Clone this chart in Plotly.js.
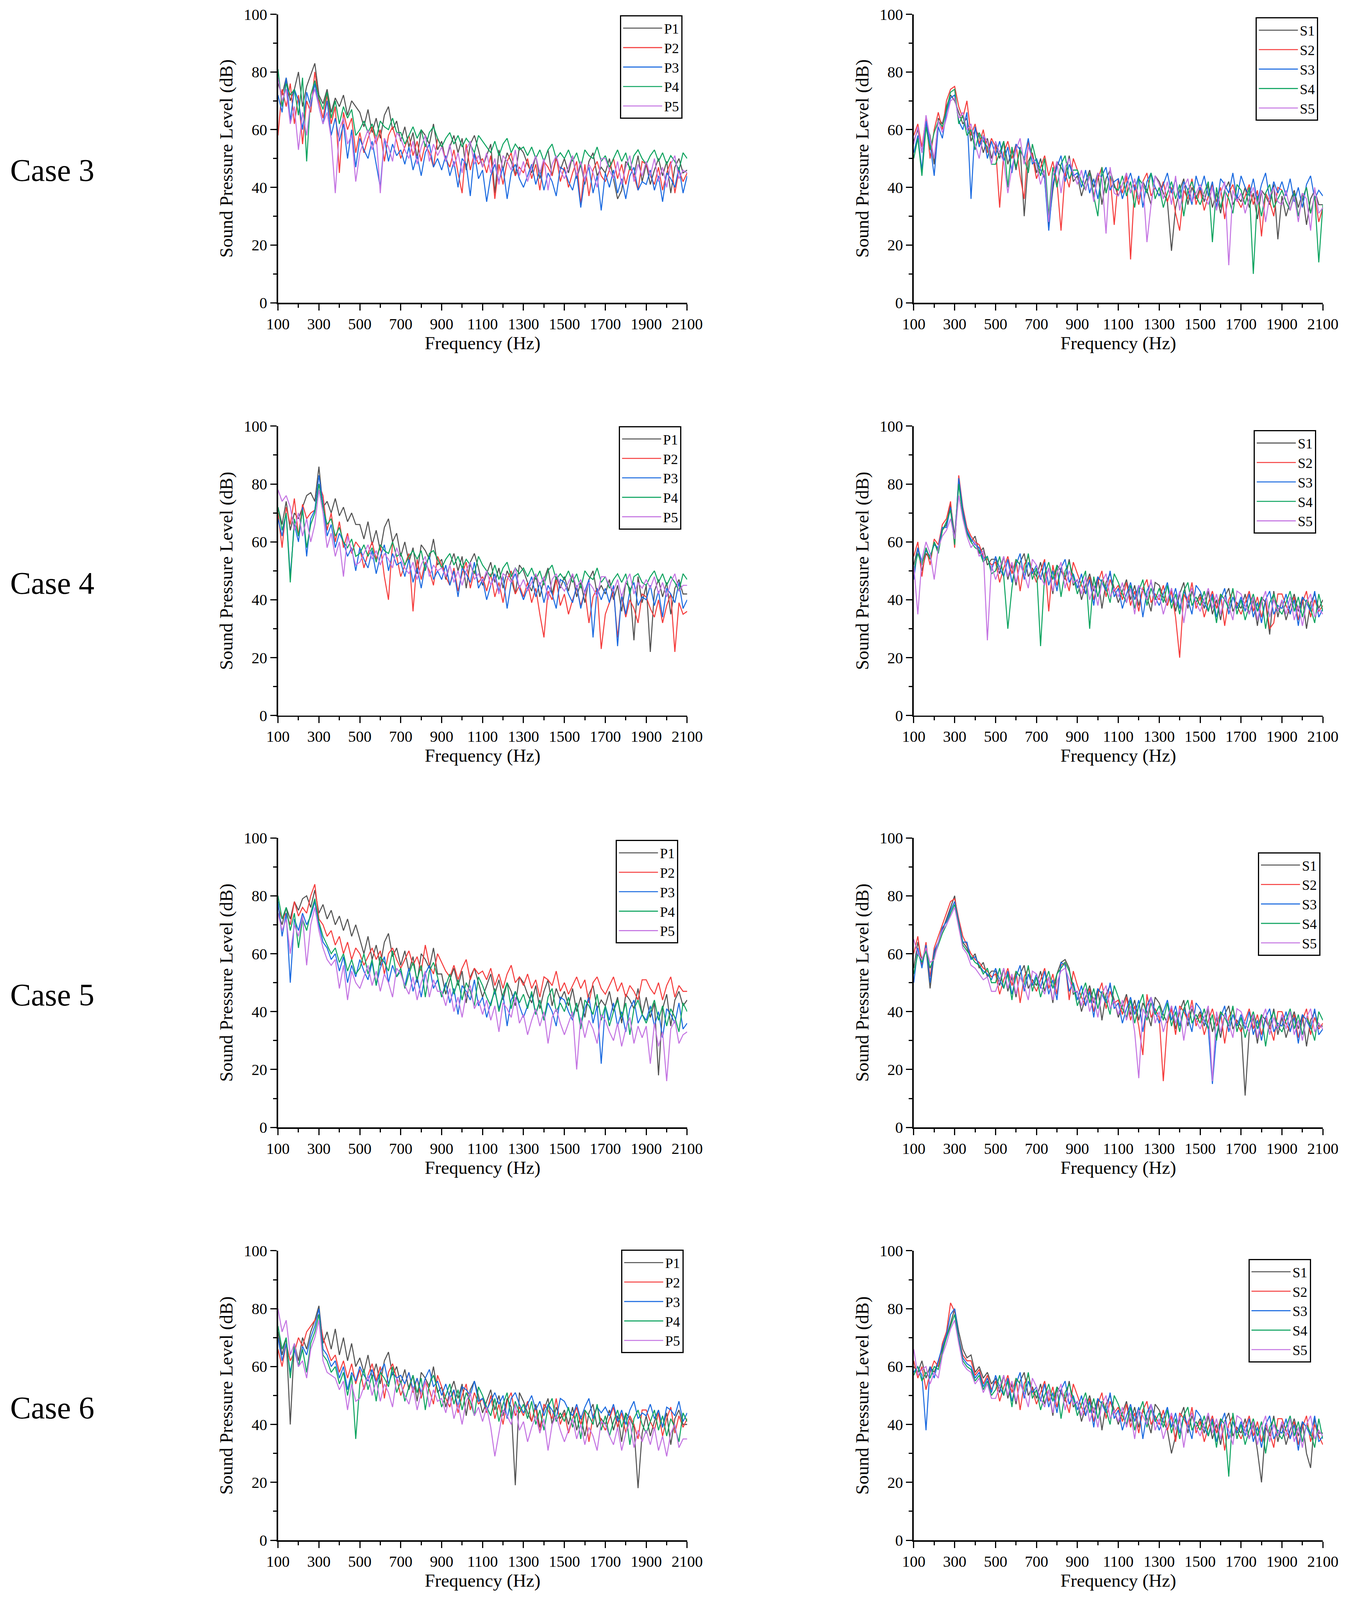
<!DOCTYPE html>
<html>
<head>
<meta charset="utf-8">
<script src="https://cdn.plot.ly/plotly-3.0.1.min.js"></script>
<style>
html,body{margin:0;padding:0;background:#fff;overflow:hidden;}
</style>
</head>
<body>
<div id="chart"></div>
<script>
// ---------------- DATA ----------------
const freq = [100,120,140,160,180,200,220,240,260,280,300,320,340,360,380,400,420,440,460,480,500,520,540,560,580,600,620,640,660,680,700,720,740,760,780,800,820,840,860,880,900,920,940,960,980,1000,1020,1040,1060,1080,1100,1120,1140,1160,1180,1200,1220,1240,1260,1280,1300,1320,1340,1360,1380,1400,1420,1440,1460,1480,1500,1520,1540,1560,1580,1600,1620,1640,1660,1680,1700,1720,1740,1760,1780,1800,1820,1840,1860,1880,1900,1920,1940,1960,1980,2000,2020,2040,2060,2080,2100];
const xTicks = [100,300,500,700,900,1100,1300,1500,1700,1900,2100];
const yTicks = [0,20,40,60,80,100];
const caseLabels = ['Case 3','Case 4','Case 5','Case 6'];
const pNames = ['P1','P2','P3','P4','P5'];
const sNames = ['S1','S2','S3','S4','S5'];

// Case 3
const c3P1 = [76,72,78,70,74,80,68,75,79,83, 72,69,74,66,71,68,72,65,70,68, 66,61,67,59,64,57,65,68,60,63, 56,61,54,59,50,60,58,55,62,53, 56,49,54,58,52,57,46,55,58,53, 47,51,55,38,53,46,52,49,44,54, 52,48,45,51,43,49,53,44,50,46, 50,45,51,43,48,41,49,52,44,47, 45,50,43,36,39,49,47,44,51,42, 48,41,46,50,44,49,38,47,50,45, 46];
const c3P2 = [58,74,68,76,62,72,55,70,66,80, 70,64,72,62,68,45,66,60,64,52, 59,52,57,61,55,60,49,58,61,56, 50,54,58,51,56,49,55,52,47,57, 54,50,47,53,45,38,55,46,52,48, 50,45,51,36,48,41,49,52,44,47, 45,50,43,48,39,49,47,44,51,42, 47,40,45,49,34,48,37,46,49,44, 42,46,50,43,48,41,47,44,39,49, 48,44,41,47,39,45,49,38,46,42, 45];
const c3P3 = [72,66,78,63,74,70,60,73,68,76, 68,62,70,58,64,56,62,50,60,47, 57,53,50,56,48,40,57,49,55,51, 53,48,54,46,51,44,52,55,47,50, 46,51,44,49,40,50,48,37,52,43, 46,35,44,48,42,47,36,45,48,43, 40,44,48,41,46,39,45,42,37,47, 46,42,39,45,33,43,47,38,44,32, 45,40,46,38,43,36,44,47,39,42, 41,46,39,44,35,45,43,40,47,38, 44];
const c3P4 = [81,68,76,72,74,65,78,49,72,77, 71,67,73,64,70,62,68,64,67,58, 60,63,59,62,57,63,61,60,64,59, 59,55,58,61,57,60,54,59,61,57, 54,57,59,55,58,54,57,55,52,58, 56,54,52,56,51,55,57,52,55,53, 54,51,54,50,53,49,53,55,50,52, 50,53,49,52,47,53,51,50,54,49, 51,47,50,53,49,52,46,51,53,50, 48,51,53,49,52,48,51,49,46,52, 50];
const c3P5 = [78,70,74,62,68,53,66,58,70,74, 68,62,66,57,38,60,64,55,58,42, 52,56,60,53,58,38,57,54,49,59, 57,53,50,56,48,54,58,49,55,51, 54,49,55,47,52,45,53,56,48,51, 47,52,45,50,41,51,49,46,53,44, 49,42,47,51,45,50,39,48,51,46, 43,47,51,44,49,42,48,45,40,50, 50,46,43,49,41,47,51,42,48,44, 49,44,50,42,47,40,48,51,43,46, 45];
const c3S1 = [56,60,52,62,58,48,64,62,68,72, 70,66,62,64,56,60,58,52,57,50, 55,50,56,48,53,46,54,30,49,52, 45,50,43,27,39,49,47,44,51,42, 44,37,42,46,40,45,34,43,46,41, 37,41,45,38,43,36,42,39,34,44, 42,38,35,18,33,39,43,34,40,36, 40,35,41,33,38,31,39,42,34,37, 35,40,33,38,29,39,37,34,41,22, 37,30,35,39,33,38,27,36,39,34, 34];
const c3S2 = [58,62,54,64,50,60,66,60,70,74, 75,68,64,70,58,62,55,60,52,57, 54,33,52,56,50,55,44,36,56,51, 43,47,51,44,49,42,25,45,40,50, 46,42,39,45,37,43,47,38,44,27, 43,38,44,15,41,34,42,45,37,40, 37,42,35,40,31,25,39,36,43,34, 39,32,37,41,35,40,29,38,41,36, 33,37,41,34,39,23,38,35,30,40, 39,35,32,38,30,36,40,31,37,28, 33];
const c3S3 = [52,58,46,63,55,44,61,57,66,71, 72,63,60,66,36,61,54,58,50,56, 51,56,49,54,45,55,53,50,57,48, 50,46,43,25,41,47,51,42,48,44, 45,40,46,38,43,36,44,47,39,42, 43,36,41,45,39,44,33,42,45,40, 37,41,45,38,43,36,42,39,34,44, 39,44,37,42,33,43,41,38,45,36, 44,40,37,43,35,41,45,36,42,38, 42,37,43,35,40,33,41,44,36,39, 37];
const c3S4 = [50,57,44,61,53,59,63,61,67,73, 74,62,65,58,60,53,59,56,54,48, 48,52,56,40,54,47,53,50,45,55, 49,44,50,30,47,40,48,51,43,46, 46,42,39,45,37,30,47,38,44,40, 39,44,37,42,33,43,41,38,45,36, 40,33,38,42,36,41,30,39,42,37, 34,38,42,21,40,33,39,36,31,41, 39,34,40,10,37,30,38,41,33,36, 39,35,32,38,30,36,40,31,37,14, 34];
const c3S5 = [55,61,52,65,57,50,63,59,64,70, 71,64,66,60,62,55,50,58,56,48, 56,52,49,38,47,53,57,48,54,50, 48,41,46,28,44,49,38,47,50,45, 41,46,39,44,35,45,43,24,47,38, 37,41,45,38,43,36,42,21,34,44, 41,36,42,34,44,32,40,43,35,38, 41,37,34,40,32,38,42,13,39,35, 38,31,36,40,34,39,28,37,40,35, 34,39,32,37,28,38,36,25,40,31, 33];

// Case 4
const c4P1 = [72,66,74,64,70,68,72,76,77,74, 86,72,74,70,75,69,72,67,70,66, 66,61,67,59,64,57,65,68,60,63, 55,60,53,58,49,59,57,54,61,52, 54,47,52,56,50,55,44,53,56,51, 45,49,53,46,51,44,50,47,42,52, 50,46,43,49,41,47,51,42,48,44, 48,43,49,41,46,39,47,50,42,45, 42,47,40,45,36,46,44,26,48,39, 45,22,43,47,41,46,35,44,47,42, 42];
const c4P2 = [70,58,72,66,75,62,73,68,70,71, 80,76,64,70,60,67,58,63,56,60, 58,51,56,60,54,59,48,40,60,55, 48,52,56,36,54,47,53,50,45,55, 52,48,45,51,43,49,53,44,50,46, 48,43,49,41,46,39,47,50,42,45, 41,46,39,44,35,27,43,40,47,38, 42,35,40,44,38,43,32,41,44,23, 35,39,43,27,41,34,40,37,32,42, 41,37,34,40,32,38,42,22,39,35, 36];
const c4P3 = [68,62,70,48,66,60,72,55,68,71, 83,73,62,66,58,63,60,55,58,50, 58,54,51,57,49,55,59,50,56,52, 53,48,54,46,51,44,52,55,47,50, 47,52,45,50,41,51,49,46,53,44, 47,40,45,49,43,48,37,46,49,44, 40,44,48,41,46,39,45,42,37,47, 46,42,39,45,37,43,47,27,44,40, 44,39,45,24,42,35,43,46,38,41, 40,45,38,43,34,44,42,39,46,37, 40];
const c4P4 = [72,64,70,46,68,62,71,58,66,70, 80,72,66,68,62,65,60,58,61,55, 56,59,55,58,53,59,57,56,60,55, 56,52,55,57,54,57,50,56,57,54, 51,54,56,52,55,51,54,52,49,55, 52,50,48,52,47,51,53,48,51,49, 51,48,51,47,50,45,50,52,47,49, 47,50,46,49,44,50,48,47,51,46, 48,44,47,49,46,49,42,48,49,46, 45,48,50,46,49,45,48,46,43,49, 47];
const c4P5 = [78,74,76,72,64,70,62,68,60,66, 78,70,58,63,55,60,48,62,57,52, 53,56,59,54,57,52,56,54,51,58, 54,51,49,53,47,52,55,48,52,50, 51,48,52,46,50,45,50,53,47,49, 46,50,45,48,42,49,48,46,51,44, 47,43,46,49,45,48,40,47,49,45, 43,46,49,44,47,42,46,44,41,48, 48,45,43,47,41,46,49,42,46,44, 47,44,48,42,46,41,46,49,43,45, 45];
const c4S1 = [52,58,50,56,54,60,57,64,66,73, 62,80,70,64,60,62,56,58,52,54, 54,49,55,47,52,45,53,56,48,51, 48,53,46,51,42,52,50,47,54,45, 47,40,45,49,43,48,37,46,49,44, 39,43,47,40,45,38,44,41,36,46, 45,41,38,44,36,42,46,37,43,39, 42,37,43,35,40,33,41,44,36,39, 37,42,35,40,31,41,39,28,43,34, 40,33,38,42,36,41,30,39,42,37, 40];
const c4S2 = [55,60,48,58,52,61,59,66,68,74, 58,83,72,65,62,60,59,55,54,52, 53,46,51,55,49,54,43,52,55,50, 46,50,54,36,52,45,51,48,43,53, 49,45,42,48,40,46,50,41,47,43, 45,40,46,38,43,36,44,47,39,42, 40,45,38,43,34,20,42,39,46,37, 41,34,39,43,37,42,31,40,43,38, 35,39,43,36,41,34,40,30,32,42, 42,38,35,41,33,39,43,34,40,36, 38];
const c4S3 = [47,58,53,57,55,59,58,65,65,72, 60,82,71,64,61,59,58,54,55,50, 55,51,48,54,46,52,56,47,53,49, 52,47,53,45,50,43,51,54,46,49, 44,49,42,47,38,48,46,43,50,41, 44,37,42,46,40,45,34,43,46,41, 38,42,46,39,44,37,43,40,35,45, 43,39,36,42,34,40,44,35,41,37, 41,36,42,34,39,32,40,43,35,38, 37,42,35,40,31,41,39,36,43,34, 37];
const c4S4 = [50,56,52,58,54,60,56,64,67,71, 59,80,69,63,60,58,57,53,55,49, 50,55,48,30,44,54,52,49,56,47, 51,24,49,53,47,52,41,50,53,48, 42,46,50,30,48,41,47,44,39,49, 46,42,39,45,37,43,47,38,44,40, 44,39,45,37,42,35,43,46,38,41, 38,43,36,41,32,42,40,37,44,35, 40,33,38,42,36,41,30,39,42,37, 35,39,43,36,41,34,40,37,32,42, 36];
const c4S5 = [52,35,54,60,56,47,58,62,64,68, 61,76,68,62,58,60,55,57,26,52, 47,51,55,48,53,46,52,49,44,54, 52,48,45,51,43,49,53,44,50,46, 47,42,48,40,45,38,46,49,41,44, 41,46,39,44,35,45,43,40,47,38, 42,35,40,44,38,43,32,41,44,39, 36,40,44,37,42,35,41,38,33,43, 42,38,35,41,33,39,43,34,40,36, 40,35,41,33,38,31,39,42,34,37, 35];

// Case 5
const c5P1 = [74,70,76,72,78,75,79,80,76,82, 74,77,72,75,70,73,68,72,66,70, 65,60,66,58,63,56,64,67,59,62, 56,61,54,59,50,60,58,55,62,53, 53,46,51,55,49,54,43,52,55,50, 45,49,53,46,51,44,50,47,42,52, 50,46,43,49,41,47,51,42,48,44, 47,42,48,40,45,38,46,49,41,44, 42,47,40,45,36,46,44,41,48,39, 45,38,43,18,41,46,35,44,47,42, 44];
const c5P2 = [76,72,74,70,78,73,76,74,80,84, 72,70,66,68,63,66,60,64,58,62, 60,56,59,62,58,61,53,60,62,58, 55,58,61,56,59,54,63,56,53,60, 57,54,52,56,51,55,58,51,55,53, 54,51,55,49,53,48,53,56,50,52, 49,53,48,51,45,52,51,49,54,47, 50,46,49,52,48,51,43,50,52,48, 46,49,52,47,50,45,49,47,44,51, 51,48,46,50,44,49,52,45,49,47, 47];
const c5P3 = [78,66,74,50,72,68,74,70,73,78, 70,64,62,58,60,54,59,50,56,52, 58,54,51,57,49,55,59,50,56,52, 54,49,55,47,52,45,53,56,48,51, 45,50,43,48,39,49,47,44,51,42, 45,38,43,47,41,46,35,44,47,42, 38,42,46,39,44,37,43,40,35,45, 44,40,37,43,35,41,45,36,42,22, 42,37,43,35,40,33,41,44,36,39, 37,42,35,40,31,41,39,36,43,34, 36];
const c5P4 = [80,72,76,68,74,62,72,68,74,79, 71,66,63,60,62,57,60,54,58,53, 55,60,53,58,49,59,57,54,61,52, 55,48,53,57,51,56,45,54,57,52, 45,49,53,46,51,44,50,47,42,52, 49,45,42,48,40,46,50,41,47,43, 46,41,47,39,44,37,45,48,40,43, 40,45,38,43,34,44,42,39,46,37, 42,35,40,44,38,43,32,41,44,39, 36,40,44,37,42,35,41,38,33,43, 40];
const c5P5 = [74,68,72,60,70,66,73,56,70,76, 68,62,58,56,58,48,56,44,54,50, 48,52,56,49,54,47,53,50,45,55, 53,49,46,52,44,50,54,45,51,47, 47,42,48,40,45,38,46,49,41,44, 39,44,37,42,33,43,41,38,45,36, 39,32,37,41,35,40,29,38,41,36, 32,36,40,20,38,31,37,34,29,39, 37,33,30,36,28,34,38,29,35,31, 35,22,36,28,33,16,34,37,29,32, 33];
const c5S1 = [55,64,58,62,48,60,64,68,72,76, 80,70,64,62,58,60,55,57,52,54, 54,49,55,47,52,45,53,56,48,51, 49,54,47,52,43,53,57,58,55,46, 47,40,45,49,43,48,37,46,49,44, 38,42,46,39,44,37,43,40,35,45, 43,39,36,42,34,40,44,35,41,37, 40,35,41,33,38,31,39,42,34,37, 35,11,33,38,29,39,37,34,41,32, 38,31,36,40,34,39,28,37,40,35, 35];
const c5S2 = [60,66,56,64,52,62,66,70,74,78, 79,72,66,63,60,58,57,55,54,52, 53,46,51,55,49,54,43,52,55,50, 47,51,55,48,53,46,56,57,44,54, 49,45,42,48,40,46,50,41,47,43, 44,39,45,37,42,35,25,46,38,41, 38,16,36,41,32,42,40,37,44,35, 39,32,37,41,35,40,29,38,41,36, 33,37,41,34,39,32,38,35,30,40, 40,36,33,39,31,37,41,32,38,34, 36];
const c5S3 = [50,62,55,63,50,61,64,69,71,75, 78,71,64,64,58,59,56,54,53,51, 55,51,48,54,46,52,56,47,53,49, 53,48,54,46,51,44,57,56,47,50, 44,49,42,47,38,48,46,43,50,41, 43,36,41,45,39,44,33,42,45,40, 36,40,44,37,42,35,41,38,33,43, 41,37,34,15,32,38,42,33,39,35, 39,34,40,32,37,30,38,41,33,36, 35,40,33,38,29,39,37,34,41,32, 34];
const c5S4 = [53,60,57,61,55,59,63,67,70,74, 77,70,63,61,59,57,56,53,55,50, 50,55,48,53,44,54,52,49,56,47, 52,45,50,54,48,53,55,57,54,49, 42,46,50,43,48,41,47,44,39,49, 45,41,38,44,36,42,46,37,43,39, 42,37,43,35,40,33,41,44,36,39, 36,41,34,39,30,40,38,35,42,33, 38,31,36,40,34,39,28,37,40,35, 33,37,41,34,39,32,38,35,30,40, 37];
const c5S5 = [65,60,58,62,57,58,64,68,70,73, 76,69,62,60,56,55,53,51,52,47, 47,51,55,48,53,46,52,49,44,54, 53,49,46,52,44,50,54,55,51,47, 47,42,48,40,45,38,46,49,41,44, 39,44,37,42,33,17,41,38,45,36, 40,33,38,42,36,41,30,39,42,37, 34,38,42,16,40,33,39,36,31,41, 40,36,33,39,31,37,41,32,38,34, 39,34,40,32,37,30,38,41,33,36, 34];

// Case 6
const c6P1 = [72,64,70,40,68,62,70,66,72,76, 81,68,72,66,73,64,70,62,68,60, 63,58,64,56,61,54,62,65,57,60, 54,59,52,57,48,58,56,53,60,51, 53,46,51,55,49,54,43,52,55,50, 44,48,52,45,50,43,49,46,19,51, 48,44,41,47,39,45,49,40,46,42, 45,40,46,38,43,36,44,47,39,42, 40,45,38,43,34,44,42,39,18,37, 43,36,41,45,39,44,33,42,45,40, 40];
const c6P2 = [66,60,68,62,65,70,67,72,74,76, 78,70,66,62,64,58,62,56,61,54, 59,52,57,61,55,60,49,58,61,56, 50,54,58,51,56,49,55,52,47,57, 53,49,46,52,44,50,54,45,51,47, 49,44,50,42,47,40,48,51,43,46, 43,48,41,46,37,47,45,42,49,40, 44,37,42,46,40,45,34,43,46,41, 38,42,46,39,44,37,43,40,35,45, 45,41,38,44,36,42,46,37,43,39, 42];
const c6P3 = [70,62,68,58,66,60,67,64,70,74, 80,66,64,60,62,56,60,52,58,55, 60,57,55,59,54,58,61,54,58,56, 57,54,58,52,56,51,56,59,53,55, 50,54,49,52,46,53,52,50,55,48, 49,45,48,51,47,50,42,49,51,47, 44,47,50,45,48,43,47,45,42,49, 48,45,43,47,42,46,49,42,46,44, 46,43,47,41,45,40,45,48,42,44, 43,47,42,45,39,46,45,43,48,41, 44];
const c6P4 = [74,66,70,56,68,60,66,58,68,72, 78,64,62,58,60,54,58,50,57,35, 54,59,52,57,48,58,56,53,60,51, 55,48,53,57,51,56,45,54,57,52, 46,50,54,47,52,45,51,48,43,53, 50,46,43,49,41,47,51,42,48,44, 47,42,48,40,45,38,46,49,41,44, 41,46,39,44,35,45,43,40,47,38, 43,36,41,45,39,44,33,42,45,40, 37,41,45,38,43,36,42,39,34,44, 41];
const c6P5 = [80,72,76,64,68,60,62,56,66,70, 76,62,58,57,56,52,55,45,54,48, 49,53,57,50,55,48,54,51,46,56, 54,50,47,53,45,51,55,46,52,48, 49,44,50,42,47,40,48,51,43,46, 41,46,39,29,37,45,43,40,47,38, 41,34,39,43,37,42,31,40,43,38, 34,38,42,35,40,33,39,36,31,41, 40,36,33,39,31,37,41,32,38,34, 38,33,39,31,36,29,37,40,32,35, 35];
const c6S1 = [60,58,62,56,60,58,62,66,70,75, 80,72,66,63,64,58,60,56,58,54, 56,51,57,49,54,47,55,58,50,53, 49,54,47,52,43,53,51,48,55,46, 48,41,46,50,44,49,38,47,50,45, 40,44,48,41,46,39,45,42,37,47, 45,41,38,30,36,42,46,37,43,39, 42,37,43,35,40,33,41,44,36,39, 37,42,35,40,31,20,39,36,43,34, 40,33,38,42,36,41,30,25,42,37, 37];
const c6S2 = [62,56,60,52,58,62,60,68,72,82, 79,70,64,62,62,57,59,54,57,52, 55,48,53,57,51,56,45,54,57,52, 47,51,55,48,53,46,52,49,44,54, 50,46,43,49,41,47,51,42,48,44, 46,41,47,39,44,37,45,48,40,43, 40,45,38,43,34,44,42,39,46,37, 41,34,39,43,37,42,31,40,43,38, 35,39,43,36,41,34,40,37,32,42, 42,38,35,41,33,39,43,34,40,36, 33];
const c6S3 = [58,60,57,38,60,56,62,67,71,78, 80,70,63,61,60,56,58,53,56,51, 57,53,50,56,48,54,58,49,55,51, 53,48,54,46,51,44,52,55,47,50, 45,50,43,48,39,49,47,44,51,42, 45,38,43,47,41,46,35,44,47,42, 38,42,46,39,44,37,43,40,35,45, 43,39,36,42,34,40,44,35,41,37, 41,36,42,34,39,32,40,43,35,38, 37,42,35,40,31,41,39,36,43,34, 36];
const c6S4 = [57,60,55,58,56,60,59,65,70,74, 78,69,62,60,59,55,57,52,55,50, 52,57,50,55,46,56,54,51,58,49, 52,45,50,54,48,53,42,51,54,49, 43,47,51,44,49,42,48,45,40,50, 47,43,40,46,38,44,48,39,45,41, 44,39,45,37,42,35,43,46,38,41, 38,43,36,41,32,42,40,22,44,35, 40,33,38,42,36,41,30,39,42,37, 35,39,43,36,41,34,40,37,32,42, 35];
const c6S5 = [66,57,59,60,54,58,56,64,68,73, 76,68,61,59,58,54,56,51,54,49, 49,53,57,50,55,48,54,51,46,56, 53,49,46,52,44,50,54,45,51,47, 48,43,49,41,46,39,47,50,42,45, 41,46,39,44,35,45,43,40,47,38, 42,35,40,44,38,43,32,41,44,39, 36,40,44,37,42,35,41,38,33,43, 42,38,35,41,33,39,43,34,40,36, 41,36,42,34,39,32,40,43,35,38, 36];

// ---------------- LAYOUT ----------------
const W = window.innerWidth || 3448;
const H = window.innerHeight || 4215;
const REFW = 1284, REFH = 1569.6;   // reference measured in these units
const fx = v => v / REFW;
const fy = v => 1 - v / REFH;
const FONT = 'Liberation Serif, Times New Roman, serif';
const colors = ['#515151', '#f53c3c', '#1a6ae0', '#0ea460', '#c474e2'];

const rowTop = [14, 418, 822, 1227];
const rowBot = [297, 702, 1106, 1511];
const colL = [265, 871];
const colR = [655, 1261];

const panels = [
  {r:0, c:0, names:pNames, series:[c3P1,c3P2,c3P3,c3P4,c3P5], leg:[591,15]},
  {r:0, c:1, names:sNames, series:[c3S1,c3S2,c3S3,c3S4,c3S5], leg:[1197,17]},
  {r:1, c:0, names:pNames, series:[c4P1,c4P2,c4P3,c4P4,c4P5], leg:[590,418]},
  {r:1, c:1, names:sNames, series:[c4S1,c4S2,c4S3,c4S4,c4S5], leg:[1195,422]},
  {r:2, c:0, names:pNames, series:[c5P1,c5P2,c5P3,c5P4,c5P5], leg:[587,824]},
  {r:2, c:1, names:sNames, series:[c5S1,c5S2,c5S3,c5S4,c5S5], leg:[1199,836]},
  {r:3, c:0, names:pNames, series:[c6P1,c6P2,c6P3,c6P4,c6P5], leg:[592,1226]},
  {r:3, c:1, names:sNames, series:[c6S1,c6S2,c6S3,c6S4,c6S5], leg:[1190,1235]}
];

const traces = [];
const layout = {
  width: W, height: H,
  margin: {l:0, r:0, t:0, b:0, pad:0},
  paper_bgcolor: '#fff', plot_bgcolor: '#fff',
  font: {family: FONT, color: '#000'},
  showlegend: true,
  annotations: []
};

const axisBase = {
  showline: true, linecolor: '#000', linewidth: 3.5,
  ticks: 'outside', ticklen: 16, tickwidth: 3, tickcolor: '#000',
  showgrid: false, zeroline: false, automargin: false, fixedrange: true,
  tickfont: {family: FONT, size: 40, color: '#000'}
};

panels.forEach((p, i) => {
  const k = i + 1;
  const sfx = k === 1 ? '' : String(k);
  p.series.forEach((ys, j) => {
    traces.push({
      type: 'scatter', mode: 'lines',
      x: freq, y: ys, name: p.names[j],
      xaxis: 'x' + sfx, yaxis: 'y' + sfx,
      legend: 'legend' + sfx,
      line: {color: colors[j], width: 2.6},
      hoverinfo: 'skip'
    });
  });
  layout['xaxis' + sfx] = Object.assign({}, axisBase, {
    domain: [fx(colL[p.c]), fx(colR[p.c])],
    anchor: 'y' + sfx,
    range: [100, 2100],
    tickmode: 'array', tickvals: xTicks, ticktext: xTicks.map(String),
    minor: {ticks: 'outside', ticklen: 9, tickwidth: 3, tickcolor: '#000', dtick: 100, tick0: 100, showgrid: false},
    title: {text: 'Frequency (Hz)', font: {family: FONT, size: 47, color: '#000'}, standoff: 8}
  });
  layout['yaxis' + sfx] = Object.assign({}, axisBase, {
    domain: [fy(rowBot[p.r]), fy(rowTop[p.r])],
    anchor: 'x' + sfx,
    range: [0, 100],
    tickmode: 'array', tickvals: yTicks, ticktext: yTicks.map(String),
    minor: {ticks: 'outside', ticklen: 9, tickwidth: 3, tickcolor: '#000', dtick: 10, tick0: 0, showgrid: false},
    title: {text: 'Sound Pressure Level (dB)', font: {family: FONT, size: 47, color: '#000'}, standoff: 14}
  });
  layout['legend' + sfx] = {
    x: fx(p.leg[0]), y: fy(p.leg[1]), xref: 'paper', yref: 'paper',
    xanchor: 'left', yanchor: 'top',
    bgcolor: '#fff', bordercolor: '#000', borderwidth: 3,
    font: {family: FONT, size: 36, color: '#000'},
    itemwidth: 100, tracegroupgap: 0, traceorder: 'normal'
  };
});

const caseY = [167, 572, 976, 1381];
caseLabels.forEach((t, i) => {
  layout.annotations.push({
    text: t, xref: 'paper', yref: 'paper',
    x: fx(50), y: fy(caseY[i]), xanchor: 'center', yanchor: 'middle',
    showarrow: false, font: {family: FONT, size: 80, color: '#000'}
  });
});

Plotly.newPlot('chart', traces, layout, {displayModeBar: false, staticPlot: true});
</script>
</body>
</html>
